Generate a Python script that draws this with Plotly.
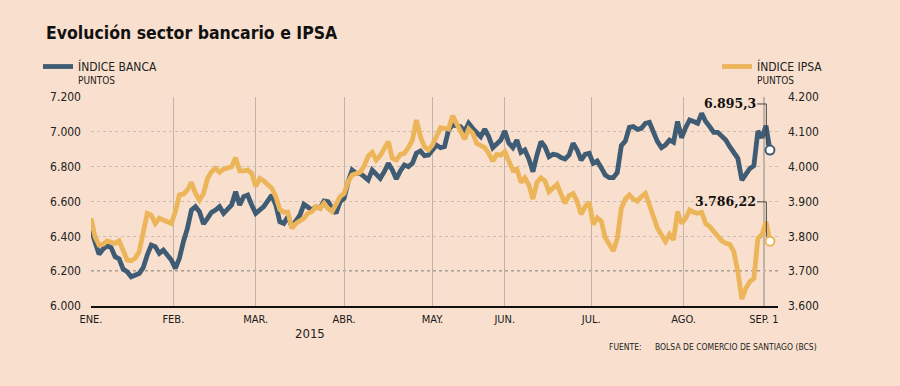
import plotly.graph_objects as go

# ---------------- data ----------------
banca_x = [0, 2, 3, 4, 5, 6, 7, 8, 9, 10, 12, 13, 14, 15, 16, 17, 18, 19, 20, 21, 22, 23, 24, 25, 26, 27, 28, 29, 30,
           31, 32, 33, 34, 35, 36, 37, 38, 39, 40, 41, 43, 44, 45, 46, 47, 48, 49, 50, 51, 52, 53, 55, 56, 57, 58, 59,
           60, 61, 62, 63, 64, 65, 66, 67, 68, 69, 70, 71, 72, 73, 74, 75, 76, 77, 78, 79, 80, 81, 82, 83, 84, 85, 86,
           87, 88, 89, 90, 91, 92, 93, 94, 95, 96, 97, 98, 99, 100, 101, 102, 103, 104, 105, 106, 107, 108, 109, 110,
           111, 112, 113, 114, 115, 116, 117, 118, 119, 120, 121, 122, 123, 124, 125, 126, 127, 128, 129, 130, 131,
           132, 133, 134, 135, 136, 137, 138, 139, 140, 141, 142, 143, 144, 145, 146, 147, 148, 149, 150, 151, 152,
           153, 154, 155, 156, 157, 158, 159, 160, 161, 162, 163, 164, 165, 166, 167, 168, 169]
banca_val = [6440, 6297, 6327, 6346, 6335, 6283, 6270, 6212, 6197, 6168, 6187, 6220, 6293, 6350, 6341, 6302, 6321,
             6293, 6264, 6216, 6274, 6369, 6446, 6551, 6570, 6541, 6471, 6503, 6538, 6551, 6570, 6532, 6555, 6580,
             6656, 6580, 6628, 6637, 6580, 6532, 6570, 6609, 6637, 6580, 6484, 6474, 6513, 6455, 6494, 6522, 6584,
             6551, 6570, 6561, 6603, 6599, 6561, 6532, 6599, 6618, 6714, 6781, 6762, 6762, 6743, 6723, 6781, 6752,
             6733, 6771, 6819, 6781, 6729, 6775, 6810, 6800, 6819, 6877, 6890, 6863, 6867, 6896, 6924, 6909, 6915,
             7011, 7039, 7035, 7030, 7001, 7049, 7020, 6991, 6972, 7016, 6972, 6909, 6928, 6953, 7005, 6935, 6909,
             6953, 6882, 6896, 6844, 6771, 6867, 6944, 6915, 6857, 6871, 6867, 6852, 6844, 6867, 6934, 6896, 6838,
             6871, 6877, 6819, 6832, 6794, 6752, 6737, 6737, 6767, 6921, 6947, 7026, 7030, 7014, 7020, 7049, 7055,
             6997, 6944, 6909, 6925, 6953, 6940, 7059, 6966, 7024, 7068, 7059, 7049, 7106, 7059, 7030, 6997, 6997,
             6978, 6953, 6915, 6882, 6848, 6723, 6752, 6790, 6806, 7005, 6966, 7035, 6895.3]

ipsa_x = [0, 1, 2, 3, 4, 5, 6, 7, 8, 9, 10, 11, 12, 13, 14, 15, 16, 17, 18, 19, 20, 21, 22, 23, 24, 25, 26, 27, 28,
          29, 30, 31, 32, 33, 34, 35, 36, 37, 38, 39, 40, 41, 42, 43, 45, 46, 47, 48, 49, 50, 51, 53, 54, 55, 56, 57,
          58, 59, 60, 61, 62, 63, 64, 65, 67, 68, 69, 70, 71, 72, 73, 74, 75, 76, 77, 78, 79, 80, 81, 82, 83, 84, 85,
          86, 87, 88, 89, 90, 91, 92, 93, 94, 95, 96, 97, 98, 99, 100, 101, 102, 103, 104, 105, 106, 107, 108, 109,
          110, 111, 112, 113, 114, 115, 116, 117, 118, 119, 120, 121, 122, 123, 124, 125, 126, 127, 128, 129, 130,
          131, 132, 133, 134, 135, 136, 137, 138, 139, 140, 141, 142, 143, 144, 145, 146, 147, 148, 149, 150, 151,
          152, 153, 154, 155, 156, 157, 158, 159, 160, 161, 162, 163, 164, 165, 166, 167, 168, 169]
ipsa_val = [3852, 3799, 3775, 3777, 3787, 3785, 3780, 3787, 3756, 3732, 3730, 3737, 3756, 3804, 3866, 3861, 3837,
            3852, 3847, 3840, 3837, 3871, 3919, 3921, 3933, 3955, 3923, 3904, 3923, 3966, 3986, 3995, 3984, 3993,
            3998, 4000, 4026, 3988, 3988, 3990, 3981, 3943, 3966, 3959, 3938, 3914, 3877, 3869, 3870, 3823, 3837,
            3852, 3866, 3871, 3885, 3880, 3895, 3880, 3871, 3892, 3914, 3923, 3957, 3976, 3984, 4003, 4030, 4041,
            4019, 4032, 4050, 4072, 4024, 4019, 4035, 4038, 4055, 4076, 4134, 4086, 4057, 4048, 4062, 4086, 4112,
            4110, 4108, 4146, 4122, 4099, 4079, 4108, 4096, 4067, 4060, 4055, 4038, 4016, 4035, 4033, 4043, 4012,
            3990, 3993, 3955, 3968, 3947, 3907, 3955, 3968, 3959, 3928, 3938, 3949, 3921, 3895, 3917, 3923, 3900,
            3863, 3885, 3898, 3834, 3853, 3844, 3796, 3777, 3758, 3794, 3880, 3907, 3919, 3907, 3901, 3914, 3923,
            3890, 3857, 3823, 3804, 3785, 3806, 3790, 3871, 3837, 3852, 3876, 3869, 3866, 3869, 3837, 3828, 3813,
            3799, 3787, 3780, 3777, 3756, 3699, 3620, 3651, 3670, 3679, 3794, 3805, 3842, 3786.22]

month_pos = [0, 20.5, 41, 63, 85, 103, 124.5, 147.5, 167.5]  # trading-session index where each month starts
month_labels = ["ENE.", "FEB.", "MAR.", "ABR.", "MAY.", "JUN.", "JUL.", "AGO.", "SEP. 1"]
left_ticks = [6000, 6200, 6400, 6600, 6800, 7000, 7200]
right_ticks = [3600, 3700, 3800, 3900, 4000, 4100, 4200]
banca_last_label = "6.895,3"
ipsa_last_label = "3.786,22"

# ---------------- styles ----------------
BG = "#F9E0CE"
BLUE = "#3F5C74"
ORANGE = "#EDB55A"
FONT = "DejaVu Sans Condensed, DejaVu Sans, sans-serif"
SERIF = "DejaVu Serif, serif"

W, H = 900, 386
ML, MR, MT, MB = 91, 122, 97, 80
PW, PH = W - ML - MR, H - MT - MB


def px(xp):
    return (xp - ML) / PW


def py(yp):
    return (H - MB - yp) / PH


fig = go.Figure()
fig.add_trace(go.Scatter(x=banca_x, y=banca_val, mode="lines", line=dict(color=BLUE, width=4.8),
                         yaxis="y", hoverinfo="skip", showlegend=False))
fig.add_trace(go.Scatter(x=ipsa_x, y=ipsa_val, mode="lines", line=dict(color=ORANGE, width=4.8),
                         yaxis="y2", hoverinfo="skip", showlegend=False))
fig.add_trace(go.Scatter(x=[banca_x[-1]], y=[banca_val[-1]], mode="markers", yaxis="y",
                         marker=dict(size=9, color="white", line=dict(color=BLUE, width=2)),
                         hoverinfo="skip", showlegend=False))
fig.add_trace(go.Scatter(x=[ipsa_x[-1]], y=[ipsa_val[-1]], mode="markers", yaxis="y2",
                         marker=dict(size=9, color="white", line=dict(color=ORANGE, width=2)),
                         hoverinfo="skip", showlegend=False))

shapes = []
# darker dotted reference line
shapes.append(dict(type="line", xref="paper", x0=0, x1=1, yref="y", y0=6200, y1=6200,
                   line=dict(color="#5A5A5A", width=1.1, dash="dot"), layer="below"))
# legend swatches
shapes.append(dict(type="line", xref="paper", yref="paper", x0=px(43), x1=px(73), y0=py(66.5), y1=py(66.5),
                   line=dict(color=BLUE, width=4.8)))
shapes.append(dict(type="line", xref="paper", yref="paper", x0=px(722), x1=px(752), y0=py(66.5), y1=py(66.5),
                   line=dict(color=ORANGE, width=4.8)))

# connectors for last-value labels
lx_b, lv_b = banca_x[-1], banca_val[-1]
lx_i, lv_i = ipsa_x[-1], ipsa_val[-1]
lab_b_y = 7160
lab_i_y = 3899
shapes.append(dict(type="path", xref="x", yref="y",
                   path=f"M {lx_b-3.2},{lab_b_y} L {lx_b-0.9},{lab_b_y} L {lx_b-0.9},{lv_b+26}",
                   line=dict(color="#444444", width=1)))
shapes.append(dict(type="path", xref="x", yref="y2",
                   path=f"M {lx_i-3.2},{lab_i_y} L {lx_i-0.9},{lab_i_y} L {lx_i-0.9},{lv_i+13}",
                   line=dict(color="#444444", width=1)))

ann = []
ann.append(dict(text="<b>Evolución sector bancario e IPSA</b>", xref="paper", yref="paper", x=px(44), y=py(33),
                xanchor="left", yanchor="middle", showarrow=False,
                font=dict(family=FONT, size=17.5, color="#111111")))
ann.append(dict(text="ÍNDICE BANCA", xref="paper", yref="paper", x=px(76), y=py(66.5), xanchor="left",
                yanchor="middle", showarrow=False, font=dict(family=FONT, size=12, color="#222222")))
ann.append(dict(text="PUNTOS", xref="paper", yref="paper", x=px(76), y=py(80.5), xanchor="left",
                yanchor="middle", showarrow=False, font=dict(family=FONT, size=10, color="#222222")))
ann.append(dict(text="ÍNDICE IPSA", xref="paper", yref="paper", x=px(755), y=py(66.5), xanchor="left",
                yanchor="middle", showarrow=False, font=dict(family=FONT, size=12, color="#222222")))
ann.append(dict(text="PUNTOS", xref="paper", yref="paper", x=px(755), y=py(80.5), xanchor="left",
                yanchor="middle", showarrow=False, font=dict(family=FONT, size=10, color="#222222")))
ann.append(dict(text="2015", xref="paper", yref="paper", x=px(310), y=py(333), xanchor="center",
                yanchor="middle", showarrow=False, font=dict(family=FONT, size=13, color="#222222")))
ann.append(dict(text="FUENTE:", xref="paper", yref="paper", x=px(607), y=py(347), xanchor="left",
                yanchor="middle", showarrow=False, font=dict(family=FONT, size=8.5, color="#222222")))
ann.append(dict(text="BOLSA DE COMERCIO DE SANTIAGO (BCS)", xref="paper", yref="paper", x=px(653), y=py(347),
                xanchor="left", yanchor="middle", showarrow=False, font=dict(family=FONT, size=8.5, color="#222222")))
ann.append(dict(text=f"<b>{banca_last_label}</b>", xref="x", yref="y", x=lx_b - 3.3, y=lab_b_y, xanchor="right",
                yanchor="middle", showarrow=False, borderpad=0, font=dict(family=SERIF, size=12.5, color="#111111")))
ann.append(dict(text=f"<b>{ipsa_last_label}</b>", xref="x", yref="y2", x=lx_i - 3.3, y=lab_i_y, xanchor="right",
                yanchor="middle", showarrow=False, borderpad=0, font=dict(family=SERIF, size=12.5, color="#111111")))

fig.update_layout(
    width=W, height=H,
    margin=dict(l=ML, r=MR, t=MT, b=MB, pad=0),
    paper_bgcolor=BG, plot_bgcolor=BG,
    separators=",.",
    font=dict(family=FONT, color="#222222"),
    xaxis=dict(range=[0, 171], tickmode="array", tickvals=month_pos, ticktext=month_labels,
               showgrid=True, gridcolor="#BFB4AB", gridwidth=1.2, zeroline=False,
               showline=True, linecolor="#111111", linewidth=1.5, ticks="",
               tickfont=dict(family=FONT, size=11, color="#1A1A1A"), ticklabelstandoff=2,
               fixedrange=True),
    yaxis=dict(range=[6000, 7200], tickmode="array", tickvals=left_ticks, tickformat=",d",
               showgrid=True, gridcolor="#CBBDB2", gridwidth=1, griddash="dot", zeroline=False,
               showline=False, ticks="", tickfont=dict(family=FONT, size=12, color="#222222"),
               ticklabelstandoff=9, fixedrange=True),
    yaxis2=dict(range=[3600, 4200], tickmode="array", tickvals=right_ticks, tickformat=",d",
                overlaying="y", side="right", showgrid=False, zeroline=False, showline=False, ticks="",
                tickfont=dict(family=FONT, size=12, color="#222222"), ticklabelstandoff=9,
                fixedrange=True),
    shapes=shapes,
    annotations=ann,
)

fig.write_html("out.html", config={"displayModeBar": False, "staticPlot": True},
               post_script="document.body.style.margin='0';document.body.style.overflow='hidden';"
                           "document.body.style.background='" + BG + "';")
